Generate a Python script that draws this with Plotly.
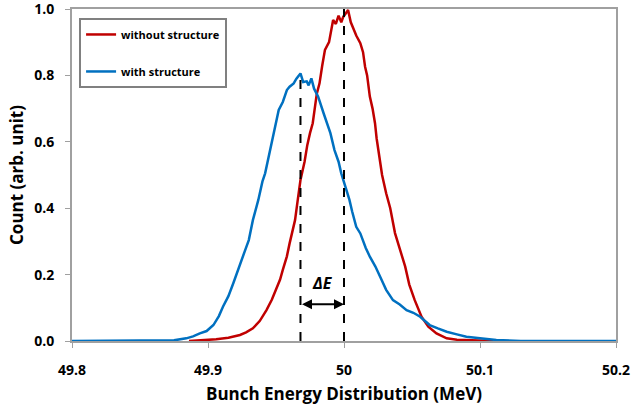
import plotly.graph_objects as go

# ---- data ----
energy_without = [49.80, 49.886, 49.896, 49.906, 49.915, 49.9235, 49.928, 49.933, 49.938, 49.943,
                  49.947, 49.950, 49.953, 49.955, 49.958, 49.960, 49.962, 49.964, 49.966, 49.968,
                  49.971, 49.973, 49.975, 49.977, 49.980, 49.982, 49.984, 49.986, 49.989, 49.992,
                  49.994, 49.996, 49.998, 49.9995, 50.001, 50.003, 50.005, 50.007, 50.009, 50.012,
                  50.014, 50.0155, 50.017, 50.019, 50.021, 50.0228, 50.024, 50.026, 50.028, 50.031,
                  50.034, 50.0375, 50.041, 50.045, 50.048, 50.052, 50.057, 50.062, 50.068, 50.0755,
                  50.083, 50.09, 50.11, 50.20]
count_without = [None, 0.0, 0.002, 0.005, 0.010, 0.018, 0.026, 0.038, 0.060, 0.093,
                 0.125, 0.154, 0.185, 0.214, 0.255, 0.294, 0.330, 0.364, 0.425, 0.485,
                 0.540, 0.590, 0.626, 0.656, 0.745, 0.776, 0.830, 0.877, 0.900, 0.967,
                 0.955, 0.980, 0.960, 0.977, 0.985, 0.997, 0.960, 0.937, 0.920, 0.897,
                 0.870, 0.826, 0.800, 0.736, 0.700, 0.656, 0.610, 0.555, 0.500, 0.445,
                 0.400, 0.325, 0.280, 0.224, 0.170, 0.123, 0.073, 0.043, 0.023, 0.008,
                 0.004, 0.003, 0.0, None]

energy_with = [49.80, 49.85, 49.875, 49.884, 49.889, 49.894, 49.899, 49.904, 49.908, 49.911,
               49.915, 49.9186, 49.9235, 49.927, 49.930, 49.933, 49.937, 49.940, 49.942, 49.945,
               49.947, 49.950, 49.952, 49.955, 49.958, 49.960, 49.963, 49.965, 49.968, 49.970,
               49.9726, 49.974, 49.976, 49.978, 49.981, 49.985, 49.988, 49.990, 49.993, 49.996,
               49.998, 50.002, 50.004, 50.006, 50.009, 50.012, 50.016, 50.019, 50.023, 50.0265,
               50.031, 50.036, 50.041, 50.046, 50.051, 50.056, 50.060, 50.063, 50.069, 50.0755,
               50.083, 50.090, 50.100, 50.112, 50.13, 50.20]
count_with = [0.0, 0.0, 0.002, 0.008, 0.014, 0.023, 0.030, 0.048, 0.075, 0.103,
              0.135, 0.174, 0.234, 0.270, 0.304, 0.364, 0.425, 0.480, 0.505, 0.560,
              0.605, 0.650, 0.696, 0.720, 0.756, 0.766, 0.776, 0.790, 0.806, 0.780,
              0.782, 0.770, 0.791, 0.760, 0.736, 0.686, 0.650, 0.626, 0.575, 0.540,
              0.505, 0.455, 0.425, 0.390, 0.344, 0.324, 0.280, 0.254, 0.225, 0.194,
              0.154, 0.123, 0.110, 0.093, 0.085, 0.073, 0.060, 0.048, 0.038, 0.028,
              0.020, 0.013, 0.008, 0.003, 0.0, 0.0]

peak_with = 49.968
peak_with_count = 0.80
peak_without = 50.0
peak_without_count = 1.0

x_tickvals = [49.8, 49.9, 50.0, 50.1, 50.2]
x_ticktext = ["49.8", "49.9", "50", "50.1", "50.2"]
y_tickvals = [0.0, 0.2, 0.4, 0.6, 0.8, 1.0]

RED = "#C00000"
BLUE = "#0070C0"
FONT = "Open Sans"

fig = go.Figure()
fig.add_trace(go.Scatter(x=energy_without, y=count_without, mode="lines", name="without structure",
                         line=dict(color=RED, width=2.5), legendgroup="a"))
fig.add_trace(go.Scatter(x=energy_with, y=count_with, mode="lines", name="with structure",
                         line=dict(color=BLUE, width=2.5), legendgroup="b"))
# dashed peak markers
fig.add_trace(go.Scatter(x=[peak_with, peak_with], y=[0, peak_with_count], mode="lines",
                         line=dict(color="black", width=2, dash="dash"), showlegend=False))
fig.add_trace(go.Scatter(x=[peak_without, peak_without], y=[0, peak_without_count], mode="lines",
                         line=dict(color="black", width=2, dash="dash"), showlegend=False))

# double arrow for Delta E
fig.add_annotation(x=peak_without, y=0.111, ax=peak_with, ay=0.111, xref="x", yref="y",
                   axref="x", ayref="y", text="", showarrow=True, arrowhead=2, arrowside="end+start",
                   arrowsize=1, arrowwidth=2, arrowcolor="black", standoff=0, startstandoff=0)
fig.add_annotation(x=(peak_with + peak_without) / 2, y=0.175, xref="x", yref="y", text="<b><i>ΔE</i></b>",
                   showarrow=False, font=dict(family=FONT, size=16, color="black"))

fig.update_layout(
    width=631, height=414,
    margin=dict(l=72, r=15, t=9, b=73),
    paper_bgcolor="white", plot_bgcolor="white",
    font=dict(family=FONT, color="black"),
    legend=dict(x=0.013, y=0.973, xanchor="left", yanchor="top",
                bordercolor="#808080", borderwidth=2, bgcolor="white",
                font=dict(family=FONT, size=11, color="black", weight="bold"),
                tracegroupgap=18, itemwidth=30),
    xaxis=dict(range=[49.8, 50.2], tickvals=x_tickvals, ticktext=x_ticktext, automargin=False,
               showgrid=False, zeroline=False, showline=True, linecolor="#A0A0A0", linewidth=2,
               mirror=True, ticks="outside", ticklen=5, tickcolor="#A0A0A0", ticklabelstandoff=10,
               ticklabeloverflow="allow",
               tickfont=dict(family=FONT, size=14, color="black", weight="bold"),
               title=dict(text="<b>Bunch Energy Distribution (MeV)</b>", font=dict(family=FONT, size=17), standoff=10)),
    yaxis=dict(range=[0, 1.0], tickvals=y_tickvals, tickformat=".1f", automargin=False,
               showgrid=False, zeroline=False, showline=True, linecolor="#A0A0A0", linewidth=2,
               mirror=True, ticks="outside", ticklen=5, tickcolor="#A0A0A0", ticklabelstandoff=8,
               ticklabeloverflow="allow",
               tickfont=dict(family=FONT, size=14, color="black", weight="bold"),
               title=dict(text="<b>Count (arb. unit)</b>", font=dict(family=FONT, size=17), standoff=6)),
)

fig.write_html("out.html", config={"displayModeBar": False},
               post_script="document.body.style.margin='0';")
